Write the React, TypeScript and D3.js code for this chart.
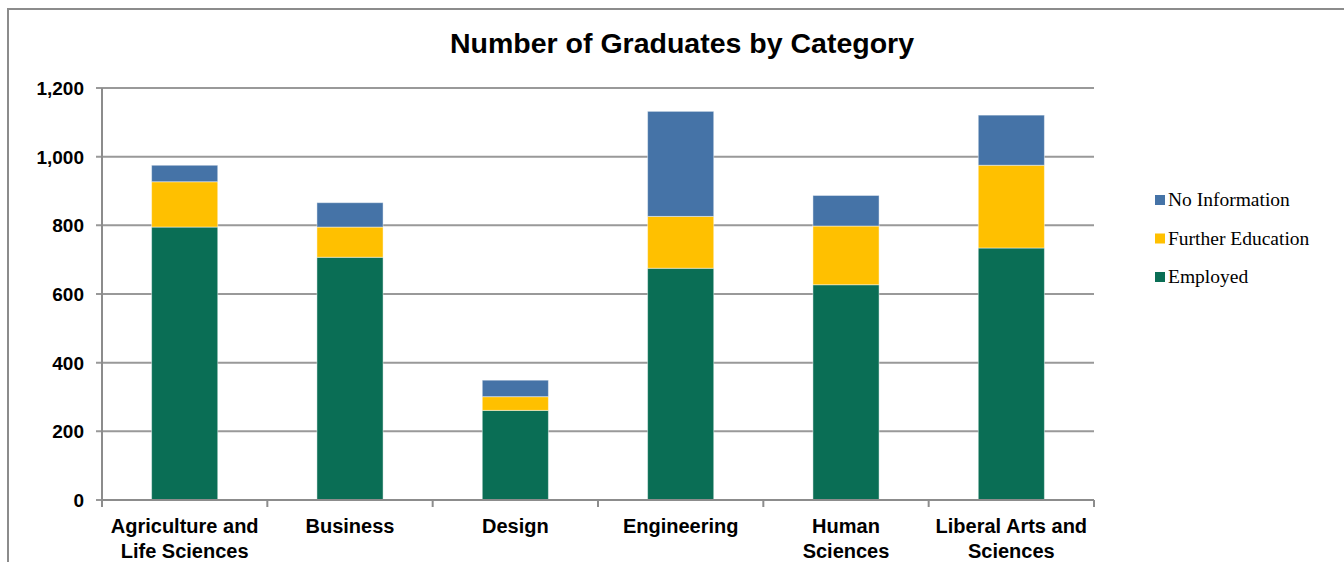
import React from "react";
import * as d3 from "d3";

const categories = [
  "Agriculture and|Life Sciences",
  "Business",
  "Design",
  "Engineering",
  "Human|Sciences",
  "Liberal Arts and|Sciences",
];
const employed = [795, 707, 261, 675, 627, 734];
const furtherEducation = [132, 88, 40, 151, 171, 241];
const noInformation = [48, 71, 48, 306, 89, 146];
const seriesNames = ["Employed", "Further Education", "No Information"];
const seriesColors = ["#0A6E55", "#FFC000", "#4573A7"];
const yTicks = [0, 200, 400, 600, 800, 1000, 1200];

export default function App() {
  const W = 1344;
  const H = 562;
  const left = 102;
  const right = 1094;
  const top = 88;
  const bottom = 500;

  const x = d3.scaleBand<number>().domain(d3.range(categories.length)).range([left, right]).paddingInner(0.6).paddingOuter(0.3);
  const xOuter = d3.scaleBand<number>().domain(d3.range(categories.length)).range([left, right]);
  const y = d3.scaleLinear().domain([0, 1200]).range([bottom, top]);

  const rows = categories.map((c, i) => ({
    Employed: employed[i],
    "Further Education": furtherEducation[i],
    "No Information": noInformation[i],
    idx: i,
  }));
  const stacked = d3.stack<any>().keys(seriesNames)(rows);
  const fmt = d3.format(",");

  const legendItems = [
    { name: "No Information", color: seriesColors[2] },
    { name: "Further Education", color: seriesColors[1] },
    { name: "Employed", color: seriesColors[0] },
  ];

  return (
    <svg width={W} height={H} style={{ position: "absolute", left: 0, top: 0, display: "block" }}>
      <rect x={0} y={0} width={W} height={H} fill="#fff" />
      <rect x={8} y={9} width={1400} height={600} fill="none" stroke="#8c8c8c" strokeWidth={2} />
      <text x={682} y={53} textAnchor="middle" fontFamily="'Liberation Sans', Arial, sans-serif" fontWeight="bold" fontSize={28.5} fill="#000">
        Number of Graduates by Category
      </text>
      {yTicks.map((t) => (
        <g key={t}>
          <line x1={96} x2={right} y1={y(t)} y2={y(t)} stroke="#999" strokeWidth={2} />
          <text x={84} y={y(t) + 7} textAnchor="end" fontFamily="'Liberation Sans', Arial, sans-serif" fontWeight="bold" fontSize={19} fill="#000">
            {fmt(t)}
          </text>
        </g>
      ))}
      <line x1={left} x2={left} y1={top} y2={bottom} stroke="#8c8c8c" strokeWidth={2} />
      {stacked.map((s, si) => (
        <g key={s.key}>
          {s.map((d, i) => (
            <rect
              key={i}
              x={x(i)!}
              width={x.bandwidth()}
              y={y(d[1])}
              height={y(d[0]) - y(d[1])}
              fill={seriesColors[si]}
              stroke="rgba(255,255,255,0.45)"
              strokeWidth={1}
            />
          ))}
        </g>
      ))}
      <line x1={left} x2={right} y1={bottom} y2={bottom} stroke="#8c8c8c" strokeWidth={2} />
      {d3.range(categories.length + 1).map((i) => {
        const xx = i < categories.length ? xOuter(i)! : right;
        return <line key={i} x1={xx} x2={xx} y1={bottom} y2={bottom + 7} stroke="#8c8c8c" strokeWidth={2} />;
      })}
      {categories.map((c, i) => {
        const cx = xOuter(i)! + xOuter.bandwidth() / 2;
        return (
          <text key={i} textAnchor="middle" fontFamily="'Liberation Sans', Arial, sans-serif" fontWeight="bold" fontSize={20} fill="#000">
            {c.split("|").map((line, li) => (
              <tspan key={li} x={cx} y={533 + li * 25}>
                {line}
              </tspan>
            ))}
          </text>
        );
      })}
      {legendItems.map((it, i) => (
        <g key={it.name}>
          <rect x={1155} y={195 + i * 38.5} width={10} height={10} fill={it.color} />
          <text x={1168} y={206 + i * 38.5} fontFamily="'Liberation Serif', 'DejaVu Serif', serif" fontSize={19.5} fill="#000">
            {it.name}
          </text>
        </g>
      ))}
    </svg>
  );
}
